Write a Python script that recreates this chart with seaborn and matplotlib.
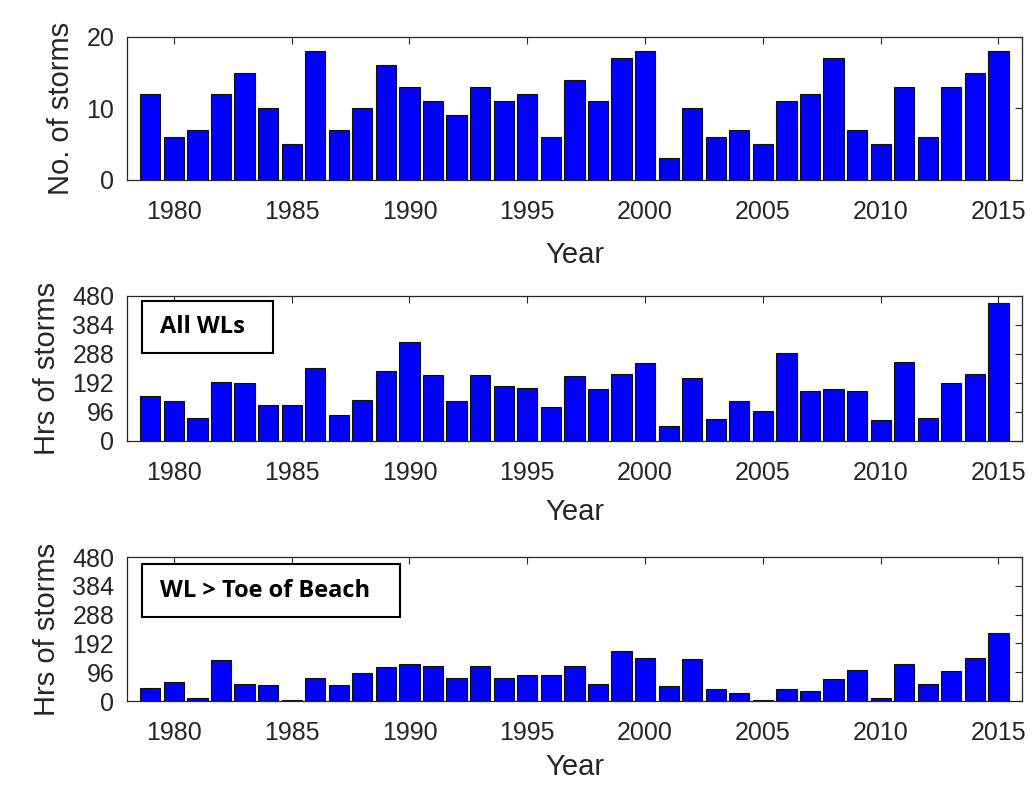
import matplotlib
matplotlib.use("Agg")
import matplotlib.pyplot as plt
from matplotlib.patches import Rectangle
import seaborn as sns
import pandas as pd

# Storm statistics per year
years = list(range(1979, 2016))
storm_counts = [12, 6, 7, 12, 15, 10, 5, 18, 7, 10, 16, 13, 11, 9, 13, 11, 12, 6, 14,
                11, 17, 18, 3, 10, 6, 7, 5, 11, 12, 17, 7, 5, 13, 6, 13, 15, 18]
hours_all_wl = [150, 133, 75, 196, 191, 119, 119, 240, 87, 137, 231, 329, 219, 133, 218,
                183, 175, 113, 215, 173, 222, 258, 50, 207, 73, 131, 99, 290, 166, 172,
                166, 71, 263, 75, 192, 222, 458]
hours_above_toe = [42, 63, 9, 138, 56, 52, 2, 77, 54, 94, 112, 124, 118, 78, 118, 78, 87,
                   87, 117, 58, 166, 144, 51, 139, 41, 28, 3, 39, 33, 74, 103, 9, 124, 58,
                   99, 144, 228]

x_ticks = [1980, 1985, 1990, 1995, 2000, 2005, 2010, 2015]
hrs_ticks = [0, 96, 192, 288, 384, 480]
count_ticks = [0, 10, 20]

sns.set_theme(style="white")
plt.rcParams["font.family"] = ["Liberation Sans", "DejaVu Sans"]

axis_color = "#262626"

fig = plt.figure(figsize=(10.33, 7.89), dpi=100, facecolor="white")
# [left, bottom, width, height] in figure fractions
positions = [
    [0.1227, 0.7719, 0.8667, 0.1816],
    [0.1227, 0.4411, 0.8667, 0.1838],
    [0.1227, 0.1115, 0.8667, 0.1825],
]
xlabel_pads = [12, 9, 6]

# (values, y label, y ticks, y range, annotation box: text, right edge, bottom, top, text y)
panels = [
    (storm_counts, "No. of storms", count_ticks, (0, 20), None),
    (hours_all_wl, "Hrs of storms", hrs_ticks, (0, 480),
     ("All WLs", 0.1629, 0.607, 0.966, 0.783)),
    (hours_above_toe, "Hrs of storms", hrs_ticks, (0, 480),
     ("WL > Toe of Beach", 0.3047, 0.583, 0.951, 0.764)),
]

for pos, xpad, (vals, ylabel, yticks, ylim, box) in zip(positions, xlabel_pads, panels):
    ax = fig.add_axes(pos)
    df = pd.DataFrame({"Year": years, "Value": vals})
    sns.barplot(data=df, x="Year", y="Value", native_scale=True, color="#0000ff",
                saturation=1, edgecolor="#101010", linewidth=0.8, width=0.86, ax=ax)
    ax.set_xlim(1978, 2016)
    ax.set_ylim(*ylim)
    ax.set_xticks(x_ticks)
    ax.set_xticklabels([str(t) for t in x_ticks])
    ax.set_yticks(yticks)
    ax.set_yticklabels([str(t) for t in yticks])
    ax.set_xlabel("Year", fontsize=21, color=axis_color, labelpad=xpad)
    ax.set_ylabel(ylabel, fontsize=21, color=axis_color, labelpad=8)
    ax.tick_params(axis="x", pad=14.5)
    ax.tick_params(axis="y", pad=9)
    ax.tick_params(axis="both", which="both", direction="in", length=5, width=0.8,
                   top=True, right=True, labelsize=18, colors=axis_color)
    for s in ax.spines.values():
        s.set_visible(True)
        s.set_color(axis_color)
        s.set_linewidth(0.9)
    ax.set_facecolor("white")

    if box is not None:
        label, right, b0, b1, ty = box
        ax.add_patch(Rectangle((0.0167, b0), right - 0.0167, b1 - b0,
                               transform=ax.transAxes, facecolor="white",
                               edgecolor="black", linewidth=1.5, zorder=5))
        ax.text(0.037, ty, label, transform=ax.transAxes, fontsize=17,
                fontweight="bold", family=["Open Sans", "DejaVu Sans"],
                color="black", va="center", ha="left", zorder=6)

fig.savefig("out.png", dpi=100, facecolor="white")
